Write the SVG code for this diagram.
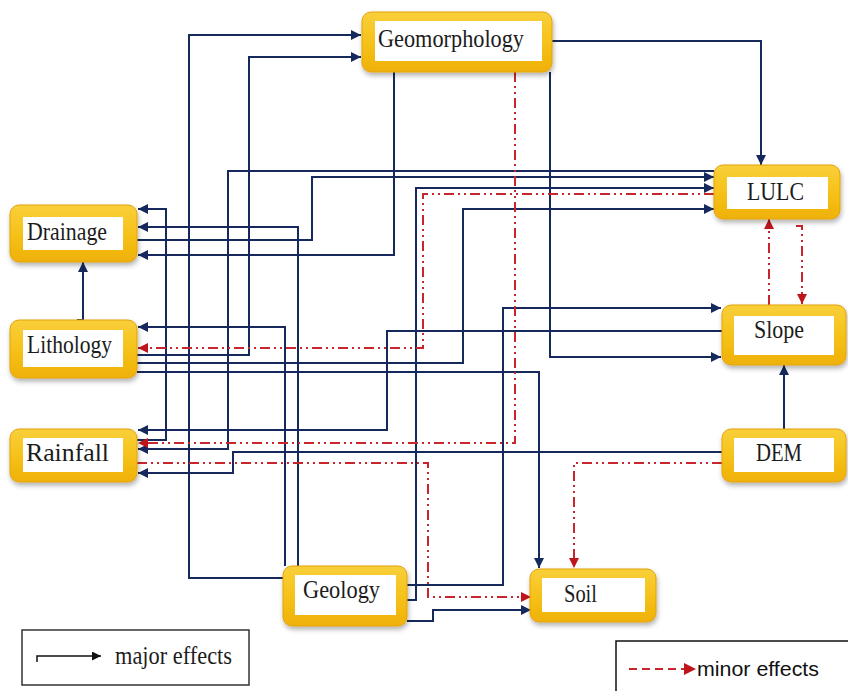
<svg xmlns="http://www.w3.org/2000/svg" width="848" height="691" viewBox="0 0 848 691">
<defs>
<style>
.c{fill:none;stroke:#15295c;stroke-width:2;marker-end:url(#an)}
.r{fill:none;stroke:#c8262c;stroke-width:2;stroke-dasharray:10 4 2 4 2 4;marker-end:url(#ar)}
.outer{fill:url(#gold);stroke:#e2a20c;stroke-width:1;filter:url(#sh)}
.inner{fill:#ffffff}
.lbl{font-family:"Liberation Serif","Times New Roman",serif;font-size:25px;fill:#1c1c1c}
</style>
<linearGradient id="gold" x1="0" y1="0" x2="0" y2="1">
<stop offset="0" stop-color="#f8cf3a"/>
<stop offset="0.5" stop-color="#f6c21a"/>
<stop offset="1" stop-color="#efb106"/>
</linearGradient>
<filter id="sh" x="-10%" y="-15%" width="125%" height="150%">
<feDropShadow dx="1" dy="3" stdDeviation="2.5" flood-color="#000" flood-opacity="0.3"/>
</filter>
<marker id="an" viewBox="0 0 10 10" refX="10" refY="5" markerWidth="10" markerHeight="10" markerUnits="userSpaceOnUse" orient="auto">
<path d="M0,0 L10,5 L0,10 z" fill="#15295c"/>
</marker>
<marker id="ar" viewBox="0 0 10 10" refX="10" refY="5" markerWidth="10" markerHeight="10" markerUnits="userSpaceOnUse" orient="auto">
<path d="M0,0 L10,5 L0,10 z" fill="#c0141b"/>
</marker>
<marker id="ak" viewBox="0 0 10 10" refX="10" refY="5" markerWidth="9" markerHeight="9" markerUnits="userSpaceOnUse" orient="auto">
<path d="M0,0 L10,5 L0,10 z" fill="#111"/>
</marker>
</defs>
<rect x="0" y="0" width="848" height="691" fill="#ffffff"/>

<g id="connectors">
<path class="c" d="M283,578 H189 V35 H361"/>
<path class="c" d="M137,355 H249 V57 H361"/>
<path class="c" d="M552,41 H761 V165"/>
<path class="c" d="M394,72 V255 H138"/>
<path class="c" d="M550,72 V357 H721"/>
<path class="c" d="M714,171 H228 V449 H138"/>
<path class="c" d="M137,240 H312 V177 H714"/>
<path class="c" d="M407,600 H416 V188 H714"/>
<path class="c" d="M137,363 H463 V209 H714"/>
<path class="c" d="M407,585 H503 V308 H721"/>
<path class="c" d="M722,331 H387 V430 H138"/>
<path class="c" d="M137,372 H539 V568"/>
<path class="c" d="M285,566 V327 H138"/>
<path class="c" d="M298,566 V227 H138"/>
<path class="c" d="M137,440 H166 V209 H138"/>
<path class="c" d="M77,320 H83 V262"/>
<path class="c" d="M784,429 V365"/>
<path class="c" d="M722,452 H233 V473 H138"/>
<path class="c" d="M407,621 H433 V610 H531"/>
<path class="r" d="M515,72 V443 H138"/>
<path class="r" d="M714,194 H423 V348 H138"/>
<path class="r" d="M137,463 H428 V597 H531"/>
<path class="r" d="M722,463 H574 V568"/>
<path class="r" d="M769,305 V219"/>
<path class="r" d="M796,226 H802 V304"/>
</g>

<g id="n-geomorphology">
<rect class="outer" x="362" y="12" width="190" height="60" rx="9"/>
<rect class="inner" x="375" y="21" width="167" height="40"/>
<text class="lbl" x="378" y="47" textLength="146" lengthAdjust="spacingAndGlyphs" style="font-size:26px">Geomorphology</text>
</g>
<g id="n-lulc">
<rect class="outer" x="714" y="165" width="126" height="54" rx="9"/>
<rect class="inner" x="727" y="177" width="101" height="32"/>
<text class="lbl" x="747" y="200" textLength="57" lengthAdjust="spacingAndGlyphs">LULC</text>
</g>
<g id="n-drainage">
<rect class="outer" x="10" y="205" width="127" height="57" rx="9"/>
<rect class="inner" x="23" y="217" width="100" height="33"/>
<text class="lbl" x="27" y="240" textLength="80" lengthAdjust="spacingAndGlyphs">Drainage</text>
</g>
<g id="n-lithology">
<rect class="outer" x="10" y="320" width="127" height="58" rx="9"/>
<rect class="inner" x="23" y="330" width="100" height="37"/>
<text class="lbl" x="27" y="353" textLength="85" lengthAdjust="spacingAndGlyphs">Lithology</text>
</g>
<g id="n-rainfall">
<rect class="outer" x="10" y="429" width="127" height="53" rx="9"/>
<rect class="inner" x="23" y="438" width="100" height="34"/>
<text class="lbl" x="26" y="461" textLength="83" lengthAdjust="spacingAndGlyphs">Rainfall</text>
</g>
<g id="n-slope">
<rect class="outer" x="722" y="305" width="124" height="60" rx="9"/>
<rect class="inner" x="734" y="316" width="100" height="39"/>
<text class="lbl" x="754" y="338" textLength="50" lengthAdjust="spacingAndGlyphs">Slope</text>
</g>
<g id="n-dem">
<rect class="outer" x="722" y="429" width="124" height="53" rx="9"/>
<rect class="inner" x="734" y="438" width="100" height="34"/>
<text class="lbl" x="756" y="461" textLength="46" lengthAdjust="spacingAndGlyphs">DEM</text>
</g>
<g id="n-geology">
<rect class="outer" x="283" y="566" width="124" height="60" rx="9"/>
<rect class="inner" x="295" y="575" width="101" height="40"/>
<text class="lbl" x="303" y="598" textLength="77" lengthAdjust="spacingAndGlyphs">Geology</text>
</g>
<g id="n-soil">
<rect class="outer" x="530" y="569" width="126" height="53" rx="9"/>
<rect class="inner" x="542" y="578" width="103" height="34"/>
<text class="lbl" x="564" y="602" textLength="33" lengthAdjust="spacingAndGlyphs">Soil</text>
</g>

<g id="legend-major">
<rect x="22" y="630" width="227" height="55" fill="#ffffff" stroke="#333" stroke-width="1.5"/>
<path d="M37,662 V656 H101" fill="none" stroke="#111" stroke-width="1.5" marker-end="url(#ak)"/>
<text class="lbl" x="115" y="664" textLength="117" lengthAdjust="spacingAndGlyphs">major effects</text>
</g>
<g id="legend-minor">
<rect x="616" y="641" width="240" height="60" fill="#ffffff" stroke="#111" stroke-width="1.5"/>
<path d="M629,669 H684" fill="none" stroke="#c8262c" stroke-width="2" stroke-dasharray="8 5"/>
<path d="M684,663 L696,669 L684,675 z" fill="#c0141b"/>
<text x="697" y="676" style="font-family:'Liberation Sans',Arial,sans-serif;font-size:21px;fill:#111" textLength="122" lengthAdjust="spacingAndGlyphs">minor effects</text>
</g>
</svg>
